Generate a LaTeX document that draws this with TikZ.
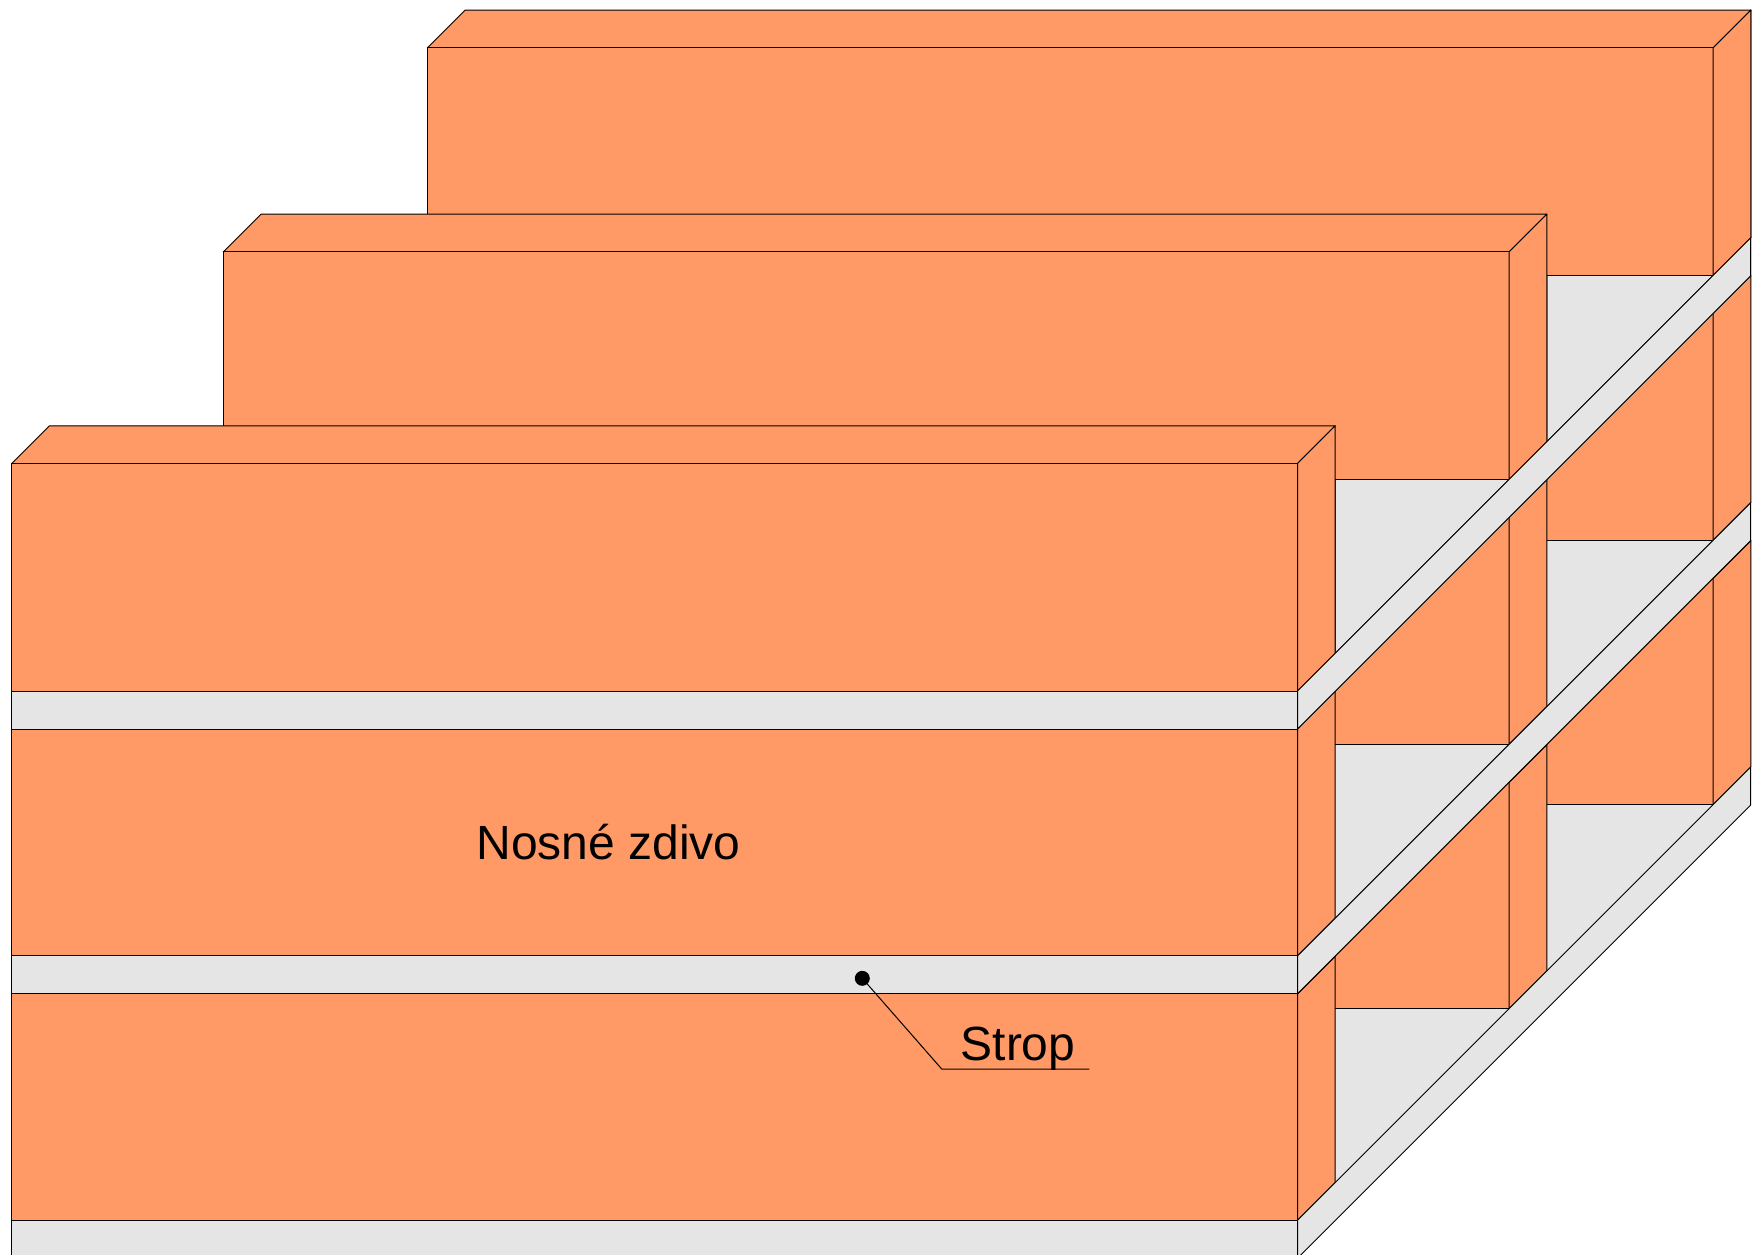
\documentclass[tikz,border=0pt]{standalone}
\usepackage{fontspec}
\setmainfont{Liberation Sans}
\definecolor{brick}{HTML}{FF9966}
\definecolor{slabgray}{HTML}{E5E5E5}
\tikzset{
  brickface/.style={fill=brick,draw=black,line width=1pt,line join=round},
  slabface/.style={fill=slabgray,draw=black,line width=1pt,line join=round},
  slabtop/.style={fill=slabgray,draw=none},
  leader/.style={draw=black,line width=1pt},
  caption/.style={font=\fontsize{48}{50}\selectfont,inner sep=0pt,anchor=base,text=black},
  pin/.style={circle,fill=black,draw=none,minimum size=15pt,inner sep=0pt}
}
% #1 shift, #2 top, #3 bottom
\newcommand{\wallblock}[3]{%
  \path[brickface] ({11.7+#1},{#2-#1}) rectangle ({1297.5+#1},{#3-#1});
  \path[brickface] ({1297.5+#1},{#2-#1}) -- ({1335.2+#1},{#2-#1-37.7})
     -- ({1335.2+#1},{#3-#1-37.7}) -- ({1297.5+#1},{#3-#1}) -- cycle;
}
\newcommand{\wallcap}[2]{%
  \path[brickface] ({11.7+#1},{#2-#1}) -- ({49.4+#1},{#2-#1-37.7})
     -- ({1335.2+#1},{#2-#1-37.7}) -- ({1297.5+#1},{#2-#1}) -- cycle;
}
% one storey: #1 top, #2 bottom
\newcommand{\storey}[2]{%
  \path[slabtop] (11.7,#2) -- (1297.5,#2) -- ({1297.5+415.7},{#2-415.7}) -- ({11.7+415.7},{#2-415.7}) -- cycle;
  \wallblock{415.7}{#1}{#2}
  \wallblock{211.6}{#1}{#2}
  \wallblock{0}{#1}{#2}
  \path[slabface] (1297.5,#2) -- ({1297.5+453.2},{#2-453.2}) -- ({1297.5+453.2},{#2-453.2+38}) -- (1297.5,{#2+38}) -- cycle;
  \path[slabface] (11.7,#2) rectangle (1297.5,{#2+38});
}
\begin{document}
\begin{tikzpicture}[x=1pt,y=-1pt]
  \useasboundingbox (0,0) rectangle (1761,1254);
  \clip (0,0) rectangle (1761,1254);
  \storey{993.8}{1220.2}
  \storey{729}{955.8}
  \storey{463.5}{691}
  \wallcap{415.7}{463.5}
  \wallblock{415.7}{463.5}{691}
  \wallcap{211.6}{463.5}
  \wallblock{211.6}{463.5}{691}
  \wallcap{0}{463.5}
  \wallblock{0}{463.5}{691}
  \path[slabface] (1297.5,691) -- (1750.7,237.8) -- (1750.7,275.8) -- (1297.5,729) -- cycle;
  \path[slabface] (11.7,691) rectangle (1297.5,729);
  \node[caption] (nosne) at (608.5,859.5) {Nosné zdivo};
  \node[caption] (strop) at (1018,1060.5) {Strop};
  \node[pin] (dot) at (862.3,978.3) {};
  \coordinate (elbow) at (941.7,1069);
  \coordinate (tail) at (1089.3,1069);
  \draw[leader] (dot.center) -- (elbow) -- (tail);
\end{tikzpicture}
\end{document}
